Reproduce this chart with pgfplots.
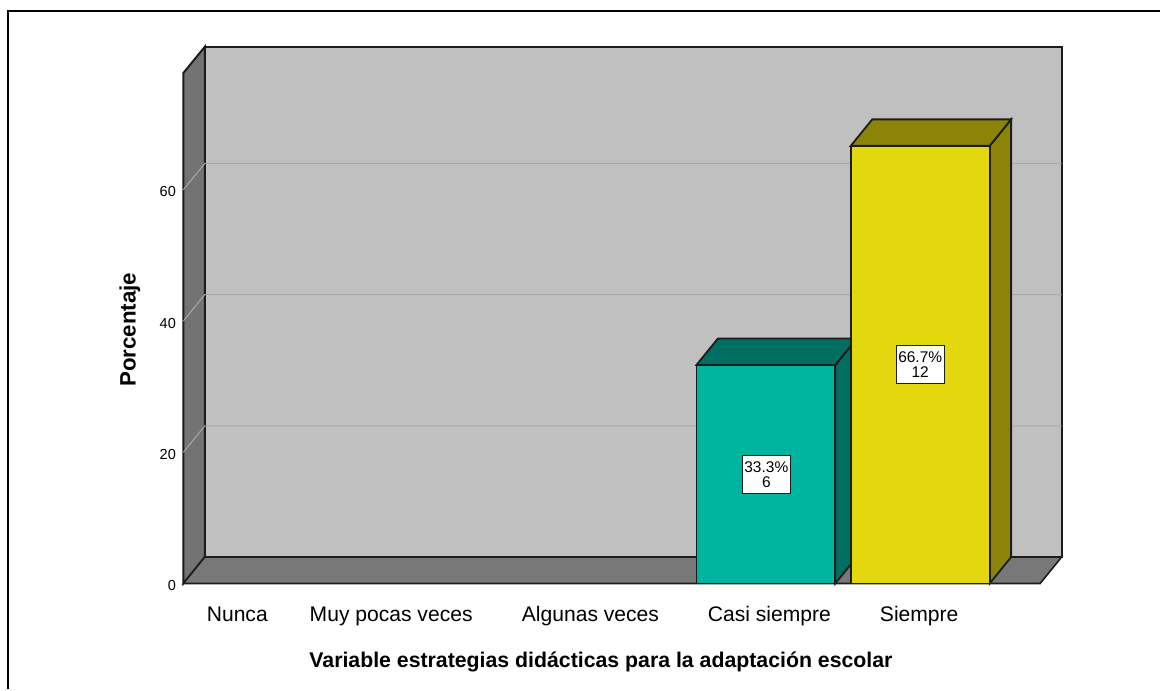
\documentclass[border=0pt]{standalone}
\usepackage{fontspec}
\setmainfont{Liberation Sans}
\usepackage{pgfplots}
\pgfplotsset{compat=1.18}
\definecolor{wall}{HTML}{C0C0C0}
\definecolor{sidew}{HTML}{737373}
\definecolor{floorc}{HTML}{787878}
\definecolor{gridc}{HTML}{A9A9A9}
\definecolor{tealf}{HTML}{00B5A0}
\definecolor{teald}{HTML}{006E60}
\definecolor{yellf}{HTML}{E3D80E}
\definecolor{yelld}{HTML}{8C8407}
\definecolor{edge}{HTML}{1C1C1C}
% depth of the 3D box: dx = 21.5 (px), dy = 4.035 (value units)
\begin{document}
\begin{tikzpicture}
\begin{axis}[
  scale only axis, width=879pt, height=511pt,
  xmin=183.5, xmax=1062.5, ymin=0, ymax=77.81,
  clip=false,
  axis line style={draw=none},
  tick style={draw=none},
  xtick={237.5,391.5,591,770,920},
  xticklabels={Nunca,Muy pocas veces,Algunas veces,Casi siempre,Siempre},
  x tick label style={font=\fontsize{21.1}{24}\selectfont, anchor=base, yshift=-38.5pt},
  ytick={0,20,40,60},
  y tick label style={font=\fontsize{14.5}{16}\selectfont, xshift=-4pt, yshift=-2pt},
  /pgf/number format/assume math mode=true,
]
% picture extent and outer frame
\path (axis cs:0,-16.14) rectangle (axis cs:1161,88.93);
\draw[black,line width=2pt] (axis cs:8.5,-16.14) -- (axis cs:8.5,87.25) -- (axis cs:1161,87.25);
% back wall, left wall, floor
\draw[fill=wall,draw=edge,line width=2pt] (axis cs:205,4.035) rectangle (axis cs:1062.5,81.8);
\draw[fill=sidew,draw=edge,line width=2pt] (axis cs:183.5,0) -- (axis cs:205,4.035) -- (axis cs:205,81.8) -- (axis cs:183.5,77.8) -- cycle;
\draw[fill=floorc,draw=edge,line width=1.6pt] (axis cs:183.5,0) -- (axis cs:1041,0) -- (axis cs:1062.5,4.035) -- (axis cs:205,4.035) -- cycle;
% grid lines
\foreach \v in {20,40,60}{
  \edef\temp{\noexpand\draw[gridc,line width=1pt] (axis cs:183.5,\v) -- (axis cs:205,\v+4.035) -- (axis cs:1062.5,\v+4.035);}
  \temp
}
% teal bar
\addplot[fill=teald,draw=edge,line width=1.8pt] coordinates {(836,0)(857.5,4.035)(857.5,37.335)(836,33.3)} --cycle;
\addplot[fill=teald,draw=edge,line width=1.8pt] coordinates {(697,33.3)(836,33.3)(857.5,37.335)(718.5,37.335)} --cycle;
\addplot[ybar,bar width=139pt,fill=tealf,draw=edge,line width=1.8pt] coordinates {(766.5,33.3)};
% yellow bar
\addplot[fill=yelld,draw=edge,line width=1.8pt] coordinates {(990.5,0)(1012,4.035)(1012,70.735)(990.5,66.7)} --cycle;
\addplot[fill=yelld,draw=edge,line width=1.8pt] coordinates {(851.5,66.7)(990.5,66.7)(1012,70.735)(873,70.735)} --cycle;
\addplot[ybar,bar width=139pt,fill=yellf,draw=edge,line width=1.8pt] coordinates {(921,66.7)};
% value boxes
\node[fill=white,draw=edge,line width=1.2pt,minimum width=48pt,minimum height=38pt,inner sep=0pt,
  align=center,font=\fontsize{15.5}{15}\selectfont] at (axis cs:767,16.65) {33.3\%\\6};
\node[fill=white,draw=edge,line width=1.2pt,minimum width=48pt,minimum height=38pt,inner sep=0pt,
  align=center,font=\fontsize{15.5}{15}\selectfont] at (axis cs:921,33.35) {66.7\%\\12};
% axis titles
\node[rotate=90,font=\bfseries\fontsize{22.3}{26}\selectfont] at (axis cs:130,38.7) {Porcentaje};
\node[font=\bfseries\fontsize{21.3}{25}\selectfont] at (axis cs:601.5,-12.0) {Variable estrategias didácticas para la adaptación escolar};
\end{axis}
\end{tikzpicture}
\end{document}
